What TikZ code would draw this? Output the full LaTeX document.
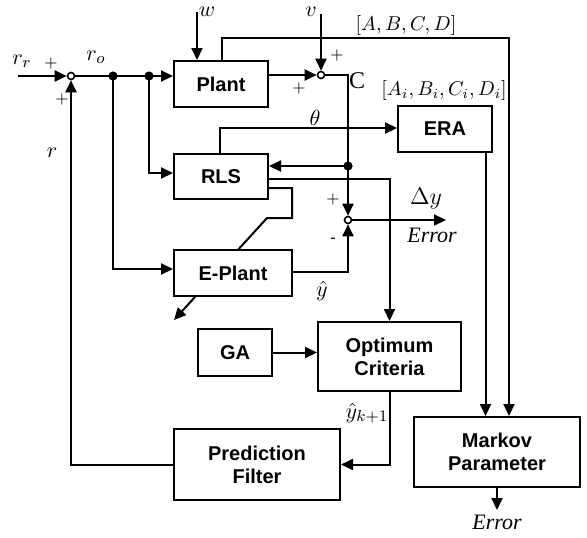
\documentclass[tikz,border=0pt]{standalone}
\usepackage{fontspec}
\usepackage{amsmath,amssymb}
\setmainfont{Liberation Serif}
\newfontfamily\blockfont{Liberation Sans}
\usetikzlibrary{arrows.meta,positioning,calc,backgrounds}

\begin{document}
\begin{tikzpicture}[x=0.5pt,y=-0.5pt,>={Triangle[length=6pt,width=5.5pt]},line width=1pt,
  block/.style={draw,fill=white,line width=1pt,inner sep=0pt,align=center,
    font=\blockfont\bfseries\fontsize{10}{11.5}\selectfont},
  junc/.style={circle,draw,fill=white,line width=0.8pt,inner sep=0pt,minimum size=3.5pt},
  sgn/.style={inner sep=0pt,font=\fontsize{8}{8}\selectfont},
  lbl/.style={inner sep=0pt,font=\fontsize{11}{12}\selectfont}]
  \useasboundingbox (0,0) rectangle (587,537);
  % blocks
  \node[block,minimum width=47pt,minimum height=23pt] (plant) at (221,84) {Plant};
  \node[block,minimum width=47pt,minimum height=22.5pt] (rls) at (221,176.5) {RLS};
  \node[block,minimum width=59pt,minimum height=23pt] (eplant) at (233,273) {E-Plant};
  \node[block,minimum width=47pt,minimum height=23pt] (era) at (445,129) {ERA};
  \node[block,minimum width=37pt,minimum height=23.5pt] (ga) at (235,352.5) {GA};
  \node[block,minimum width=71.5pt,minimum height=34.5pt] (optim) at (389.5,356.5) {Optimum\\Criteria};
  \node[block,minimum width=83pt,minimum height=35.5pt] (pfilt) at (257,464.5) {Prediction\\Filter};
  \node[block,minimum width=83pt,minimum height=35pt] (markov) at (497,452) {Markov\\Parameter};
  % summing junctions
  \node[junc] (s1) at (71,76) {};
  \node[junc] (s2) at (321,75) {};
  \node[junc] (s3) at (348,220) {};
  \coordinate (rrin) at (18,76);
  \coordinate (d1) at (113,76);
  \coordinate (d2) at (149,76);
  \coordinate (win) at (197,12);
  \coordinate (vin) at (321,14);
  \coordinate (cc) at (348,75);
  \coordinate (d3) at (348,166);
  \coordinate (abcd) at (509,38);
  \coordinate (eraout) at ($(era.south)+(40.5,0)$);
  \coordinate (tune) at (292,218);
  \coordinate (tunein) at (267,218);
  \coordinate (tuneout) at (174,320);
  \coordinate (dyout) at (446,220);
  % connectors
  \draw[->] (rrin) -- (s1);
  \draw[->] (s1) -- (s1 -| plant.west);
  \fill (d1) circle (2.3pt);
  \fill (d2) circle (2.3pt);
  \draw[->] (d1) |- ($(eplant.west)+(0,-4)$);
  \draw[->] (d2) |- ($(rls.west)+(0,-3.5)$);
  \draw[->] (win) -- (win |- plant.north);
  \draw[->] ($(plant.east)+(0,-9)$) -- (s2);
  \draw[->] (vin) -- (s2);
  \draw[->] (s2) -- (cc) -- (s3);
  \fill (d3) circle (2.3pt);
  \draw[->] (d3) -- (d3 -| rls.east);
  \draw[->] ($(plant.north)+(1,0)$) |- (abcd) -- (abcd |- markov.north);
  \draw[->] ($(rls.north)+(-1,0)$) |- ($(era.west)+(0,-1)$);
  \draw[->] (eraout) -- (eraout |- markov.north);
  \draw[->] ($(rls.east)+(0,2.5)$) -| (optim.north);
  \begin{scope}[on background layer]
    \draw[->,line width=1pt,black] ($(rls.east)+(0,11.5)$) -| (tune) -- (tunein) -- (tuneout);
  \end{scope}
  \draw[->] ($(eplant.east)+(0,-1)$) -| (s3);
  \draw[->] (s3) -- (dyout);
  \draw[->] (ga) -- (optim.west |- ga);
  \draw[->] (optim.south) |- (pfilt.east);
  \draw[->] (pfilt.west) -| (s1);
  \draw[->] (markov.south) -- ++(0,22) coordinate (mkout);
  % labels
  \node[lbl] (lrr) at (22,61) {$r_r$};
  \node[sgn] (p1) at (51,63) {$+$};
  \node[sgn] (p2) at (62,99) {$+$};
  \node[lbl] (lro) at (96,57) {$r_o$};
  \node[lbl] (lr) at (52,153) {$r$};
  \node[lbl] (lw) at (207,12) {$w$};
  \node[lbl] (lv) at (311,12) {$v$};
  \node[sgn] (p3) at (337,55) {$+$};
  \node[sgn] (p4) at (299,88) {$+$};
  \node[lbl,font=\fontsize{12}{13}\selectfont] (lc) at (357,81) {C};
  \node[lbl,font=\fontsize{10}{11}\selectfont] (labcd) at (406,25) {$\left[A,B,C,D\right]$};
  \node[lbl,font=\fontsize{10}{11}\selectfont] (laibi) at (444,90) {$\left[A_i,B_i,C_i,D_i\right]$};
  \node[lbl] (ltheta) at (315,118) {$\theta$};
  \node[lbl,font=\fontsize{12}{13}\selectfont] (ldy) at (426,199) {$\Delta y$};
  \node[lbl] (lerr1) at (432,235) {\textit{Error}};
  \node[sgn] (p5) at (333,199) {$+$};
  \node[sgn] (m1) at (333,240) {-};
  \node[lbl] (lyhat) at (322,291) {$\hat{y}$};
  \node[lbl] (lyk) at (367,413) {$\hat{y}_{k+1}$};
  \node[lbl,below=2pt of mkout] (lerr2) {\textit{Error}};
\end{tikzpicture}
\end{document}
